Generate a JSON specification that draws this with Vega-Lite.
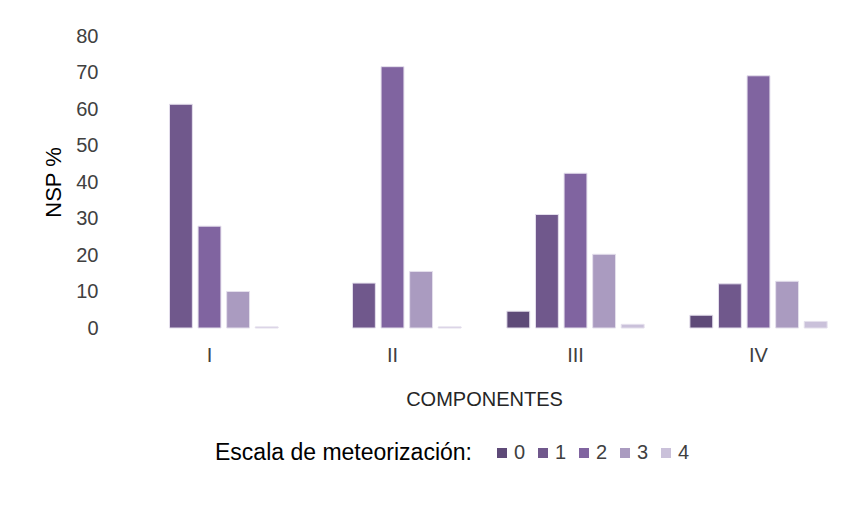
{
  "$schema": "https://vega.github.io/schema/vega-lite/v6.json",
  "autosize": {"type": "none"},
  "width": 732,
  "height": 292,
  "padding": {"left": 118, "top": 36, "right": 13, "bottom": 200},
  "background": "white",
  "data": {
    "values": [
      {"comp": "I", "escala": "1", "nsp": 61.3},
      {"comp": "I", "escala": "2", "nsp": 27.9},
      {"comp": "I", "escala": "3", "nsp": 10.0},
      {"comp": "I", "escala": "4", "nsp": 0.3},
      {"comp": "II", "escala": "1", "nsp": 12.3},
      {"comp": "II", "escala": "2", "nsp": 71.6},
      {"comp": "II", "escala": "3", "nsp": 15.5},
      {"comp": "II", "escala": "4", "nsp": 0.3},
      {"comp": "III", "escala": "0", "nsp": 4.6},
      {"comp": "III", "escala": "1", "nsp": 31.1},
      {"comp": "III", "escala": "2", "nsp": 42.4},
      {"comp": "III", "escala": "3", "nsp": 20.2},
      {"comp": "III", "escala": "4", "nsp": 1.0},
      {"comp": "IV", "escala": "0", "nsp": 3.5},
      {"comp": "IV", "escala": "1", "nsp": 12.1},
      {"comp": "IV", "escala": "2", "nsp": 69.1},
      {"comp": "IV", "escala": "3", "nsp": 12.8},
      {"comp": "IV", "escala": "4", "nsp": 1.8}
    ]
  },
  "mark": {"type": "bar", "stroke": "#e4dfec", "strokeWidth": 1},
  "encoding": {
    "x": {
      "field": "comp", "type": "nominal", "sort": ["I", "II", "III", "IV"],
      "scale": {"paddingInner": 0.25, "paddingOuter": 0.125},
      "axis": {
        "title": "COMPONENTES", "labelAngle": 0, "domain": false, "ticks": false,
        "labelPadding": 17, "titlePadding": 24,
        "labelFont": "Liberation Sans", "labelFontSize": 20, "labelColor": "#404040",
        "titleFont": "Liberation Sans", "titleFontSize": 20, "titleFontWeight": "normal", "titleColor": "#262626"
      }
    },
    "xOffset": {
      "field": "escala", "type": "nominal", "sort": ["0", "1", "2", "3", "4"],
      "scale": {"domain": ["0", "1", "2", "3", "4"], "paddingInner": 0.2}
    },
    "y": {
      "field": "nsp", "type": "quantitative",
      "scale": {"domain": [0, 80]},
      "axis": {
        "title": "NSP %", "values": [0, 10, 20, 30, 40, 50, 60, 70, 80],
        "grid": false, "domain": false, "ticks": false, "labelPadding": 20,
        "titlePadding": 10,
        "labelFont": "Liberation Sans", "labelFontSize": 20, "labelColor": "#404040",
        "titleFont": "Liberation Sans", "titleFontSize": 22, "titleFontWeight": "normal", "titleColor": "#000000"
      }
    },
    "color": {
      "field": "escala", "type": "nominal",
      "scale": {"domain": ["0", "1", "2", "3", "4"], "range": ["#5e4a78", "#70588c", "#8064a0", "#aa9bc0", "#cac1da"]},
      "legend": {
        "title": "Escala de meteorización:", "orient": "none", "direction": "horizontal",
        "legendX": 97, "legendY": 407, "titleOrient": "left", "titleLimit": 500,
        "symbolType": "square", "symbolSize": 100, "symbolStrokeWidth": 0,
        "columnPadding": 7, "labelOffset": 2,
        "titleFont": "Liberation Sans", "titleFontSize": 23, "titleFontWeight": "normal", "titleColor": "#000000", "titlePadding": 20,
        "labelFont": "Liberation Sans", "labelFontSize": 20, "labelColor": "#404040"
      }
    }
  },
  "config": {"view": {"stroke": null}}
}
